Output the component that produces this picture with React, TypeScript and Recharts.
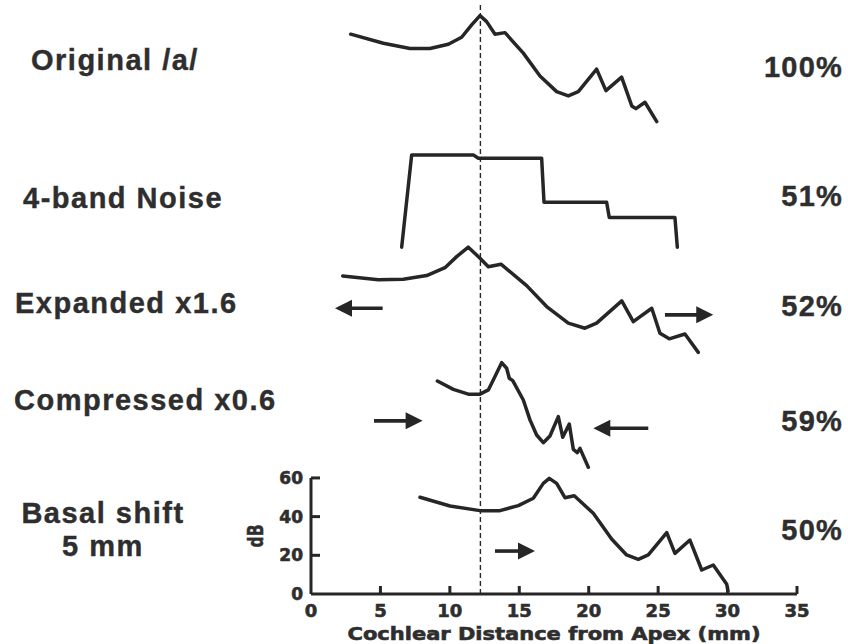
import React from 'react';
import { LineChart, Line, XAxis, YAxis, ReferenceLine } from 'recharts';

// ---------- data (x in mm from apex, level in dB) ----------
const xTicks = [0, 5, 10, 15, 20, 25, 30, 35];
const yTicks = [0, 20, 40, 60];

const conditionNames = ['Original /a/', '4-band Noise', 'Expanded x1.6', 'Compressed x0.6', 'Basal shift'];
const conditionSubNames = ['', '', '', '', '5 mm'];
const scores = ['100%', '51%', '52%', '59%', '50%'];
// vertical stacking offset (dB) of each panel
const panelOffsets = [239, 167, 119, 60, 0];

const originalX = [2.86, 5.21, 7.13, 8.57, 9.89, 10.85, 11.57, 12.17, 12.65, 13.25, 13.97, 15.29, 16.49, 17.69, 18.53, 19.25, 20.57, 21.24, 22.37, 23.1, 23.4, 24.05, 24.9];
const originalDb = [50.4, 45.7, 43.0, 43.0, 45.2, 48.8, 55.2, 60.0, 56.9, 50.4, 51.2, 40.6, 28.8, 20.7, 18.5, 20.7, 32.3, 21.2, 28.2, 13.3, 11.9, 15.2, 5.2];

const noiseX = [6.53, 7.25, 11.69, 12.05, 16.61, 16.78, 21.29, 21.48, 26.21, 26.38];
const noiseDb = [12.3, 60.0, 60.0, 58.3, 58.3, 35.5, 35.5, 27.6, 27.6, 12.3];

const expandedX = [2.28, 4.85, 6.65, 8.33, 9.65, 10.49, 11.33, 12.17, 12.77, 13.68, 15.53, 16.97, 18.53, 19.73, 20.57, 22.38, 23.21, 24.54, 25.13, 25.8, 26.93, 27.89];
const expandedDb = [45.4, 43.4, 43.7, 45.6, 49.7, 55.4, 60.3, 54.6, 50.2, 51.5, 40.4, 29.6, 21.0, 18.4, 21.0, 32.5, 21.8, 28.7, 15.8, 12.9, 15.4, 5.9];

const compressedX = [9.1, 10.25, 11.33, 12.17, 12.77, 13.25, 13.73, 14.09, 14.28, 14.53, 15.29, 15.77, 16.25, 16.73, 17.21, 17.81, 18.13, 18.6, 18.89, 19.18, 19.37, 19.97];
const compressedDb = [50.1, 45.8, 43.3, 43.3, 45.5, 52.4, 59.6, 56.7, 51.5, 50.3, 40.3, 30.0, 22.2, 18.2, 21.7, 31.7, 21.0, 27.9, 14.8, 13.1, 15.3, 5.5];

const basalX = [7.85, 10.01, 12.17, 13.61, 14.93, 16.01, 16.73, 17.16, 17.69, 18.29, 18.96, 20.33, 21.65, 22.73, 23.57, 24.29, 25.62, 26.21, 27.29, 28.14, 28.97, 29.94, 30.03];
const basalDb = [50.0, 45.5, 43.1, 43.1, 45.7, 49.5, 57.2, 59.8, 57.2, 49.8, 50.8, 41.7, 28.4, 20.2, 17.9, 20.2, 31.7, 21.0, 27.9, 12.4, 15.0, 5.0, 1.5];

// peak reference place (mm)
const peakPlace = 12.2;

// shift arrows: panel index, tail x, head x, level (dB within panel)
const arrowPanel = [2, 2, 3, 3, 4];
const arrowTail = [5.16, 25.49, 4.54, 24.29, 13.25];
const arrowHead = [1.73, 28.97, 8.04, 20.33, 16.13];
const arrowDb = [28.7, 25.3, 29.5, 25.7, 22.2];

// ---------- build ----------
const seriesX = [originalX, noiseX, expandedX, compressedX, basalX];
const seriesDb = [originalDb, noiseDb, expandedDb, compressedDb, basalDb];
const seriesData = seriesX.map((xs, s) =>
  xs.map((x, i) => ({ x, y: seriesDb[s][i] + panelOffsets[s] }))
);

const INK = '#262626';
const TEXT = '#2e2e2e';
const AXIS_FONT = '"DejaVu Sans", Verdana, sans-serif';
const LABEL_FONT = '"Liberation Sans", Arial, Helvetica, sans-serif';

const ArrowShape = (props: any) => {
  const { x1, y1, x2, y2 } = props;
  if ([x1, y1, x2, y2].some((v) => typeof v !== 'number' || isNaN(v))) return <g />;
  const dx = x2 - x1;
  const dy = y2 - y1;
  const len = Math.hypot(dx, dy) || 1;
  const ux = dx / len;
  const uy = dy / len;
  const headLen = 17;
  const half = 8.5;
  const bx = x2 - ux * headLen;
  const by = y2 - uy * headLen;
  return (
    <g>
      <line x1={x1} y1={y1} x2={bx + ux * 2} y2={by + uy * 2} stroke={INK} strokeWidth={3.6} />
      <polygon
        points={`${x2},${y2} ${bx - uy * half},${by + ux * half} ${bx + uy * half},${by - ux * half}`}
        fill={INK}
      />
    </g>
  );
};

const XTick = (props: any) => {
  const { x, y, payload } = props;
  return (
    <g>
      {payload.value !== 0 && <line x1={x} y1={y} x2={x} y2={y - 8} stroke={INK} strokeWidth={3} />}
      <text
        x={x}
        y={y + 23}
        textAnchor="middle"
        fontFamily={AXIS_FONT}
        fontWeight="bold"
        fontSize={18}
        fill={TEXT}
        stroke={TEXT}
        strokeWidth={0.6}
      >
        {payload.value}
      </text>
    </g>
  );
};

const YTick = (props: any) => {
  const { x, y, payload } = props;
  return (
    <g>
      {payload.value !== 0 && <line x1={x} y1={y} x2={x + 9} y2={y} stroke={INK} strokeWidth={3} />}
      <text
        x={x - 8}
        y={y + 6}
        textAnchor="end"
        fontFamily={AXIS_FONT}
        fontWeight="bold"
        fontSize={17}
        fill={TEXT}
        stroke={TEXT}
        strokeWidth={0.6}
      >
        {payload.value}
      </text>
    </g>
  );
};

const XTitle = (props: any) => {
  const vb = props.viewBox || { x: 311, y: 594, width: 486, height: 50 };
  const cx = vb.x + vb.width / 2;
  return (
    <text
      x={cx}
      y={vb.y + 46}
      textAnchor="middle"
      fontFamily={AXIS_FONT}
      fontWeight="bold"
      fontSize={18}
      fill={TEXT}
      stroke={TEXT}
      strokeWidth={0.6}
      textLength={413}
      lengthAdjust="spacingAndGlyphs"
    >
      Cochlear Distance from Apex (mm)
    </text>
  );
};

const leftLabelPos = [
  [31, 70],
  [23, 208],
  [15, 313],
  [14, 410],
  [103, 523],
];
const rightLabelBase = [77, 206, 316, 431, 540];

export default function App() {
  return (
    <div style={{ position: 'absolute', left: 0, top: 0, width: 848, height: 644, background: '#fff' }}>
      <LineChart
        width={848}
        height={644}
        margin={{ top: 4, right: 51, bottom: 0, left: 271 }}
      >
        <XAxis
          type="number"
          dataKey="x"
          domain={[0, 35]}
          ticks={xTicks}
          allowDataOverflow
          height={50}
          tickLine={false}
          tickSize={0}
          tickMargin={0}
          axisLine={{ stroke: INK, strokeWidth: 3 }}
          tick={<XTick />}
          label={<XTitle />}
        />
        <YAxis
          type="number"
          dataKey="y"
          domain={[0, 305]}
          ticks={yTicks}
          allowDataOverflow
          width={40}
          tickLine={false}
          tickSize={0}
          tickMargin={0}
          axisLine={false}
          tick={<YTick />}
        />
        <ReferenceLine
          x={peakPlace}
          stroke={INK}
          strokeWidth={1.4}
          strokeDasharray="5 3"
        />
        <ReferenceLine
          segment={[{ x: 0, y: 0 }, { x: 0, y: 60 }]}
          stroke={INK}
          strokeWidth={3}
        />
        {seriesData.map((d, i) => (
          <Line
            key={i}
            data={d}
            dataKey="y"
            type="linear"
            stroke={INK}
            strokeWidth={3.5}
            strokeLinejoin="round"
            strokeLinecap="round"
            dot={false}
            activeDot={false}
            isAnimationActive={false}
          />
        ))}
        {arrowPanel.map((p, i) => (
          <ReferenceLine
            key={'a' + i}
            segment={[
              { x: arrowTail[i], y: arrowDb[i] + panelOffsets[p] },
              { x: arrowHead[i], y: arrowDb[i] + panelOffsets[p] },
            ]}
            stroke={INK}
            shape={ArrowShape}
          />
        ))}
      </LineChart>
      <svg
        width={848}
        height={644}
        style={{ position: 'absolute', left: 0, top: 0, pointerEvents: 'none' }}
      >
        {conditionNames.map((name, i) => (
          <text
            key={'l' + i}
            x={leftLabelPos[i][0]}
            y={leftLabelPos[i][1]}
            textAnchor={conditionSubNames[i] ? 'middle' : 'start'}
            fontFamily={LABEL_FONT}
            fontWeight="bold"
            fontSize={29}
            letterSpacing={1.5}
            fill={TEXT}
            stroke={TEXT}
            strokeWidth={0.4}
          >
            {name}
          </text>
        ))}
        {conditionSubNames.map((name, i) =>
          name ? (
            <text
              key={'s' + i}
              x={leftLabelPos[i][0]}
              y={leftLabelPos[i][1] + 33}
              textAnchor="middle"
              fontFamily={LABEL_FONT}
              fontWeight="bold"
              fontSize={29}
              letterSpacing={1.5}
              fill={TEXT}
              stroke={TEXT}
              strokeWidth={0.4}
            >
              {name}
            </text>
          ) : null
        )}
        {scores.map((s, i) => (
          <text
            key={'r' + i}
            x={843}
            y={rightLabelBase[i]}
            textAnchor="end"
            fontFamily={LABEL_FONT}
            fontWeight="bold"
            fontSize={29}
            letterSpacing={1.2}
            fill={TEXT}
            stroke={TEXT}
            strokeWidth={0.4}
          >
            {s}
          </text>
        ))}
        <text
          x={0}
          y={0}
          transform="translate(263,536) rotate(-90)"
          textAnchor="middle"
          fontFamily={AXIS_FONT}
          fontWeight="bold"
          fontSize={22}
          textLength={23}
          lengthAdjust="spacingAndGlyphs"
          fill={TEXT}
          stroke={TEXT}
          strokeWidth={0.5}
        >
          dB
        </text>
      </svg>
    </div>
  );
}
